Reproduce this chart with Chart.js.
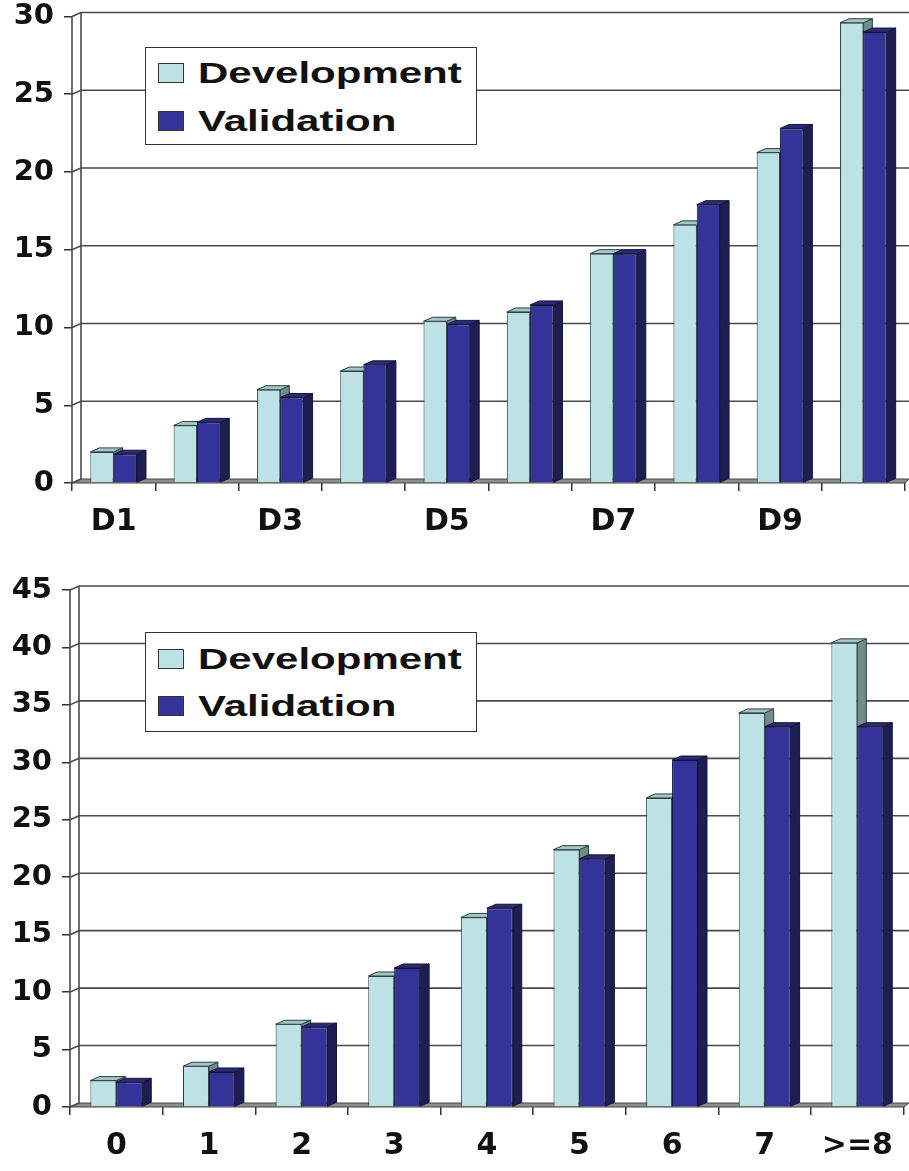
<!DOCTYPE html>
<html>
<head>
<meta charset="utf-8">
<script src="https://cdn.jsdelivr.net/npm/chart.js@4.4.0/dist/chart.umd.min.js"></script>
<style>
  html, body { margin: 0; padding: 0; background: #fff; }
  body { width: 909px; height: 1171px; position: relative; overflow: hidden; }
  .wrap { position: absolute; left: 0; width: 909px; }
  #w1 { top: -8px; height: 558px; }
  #w2 { top: 560px; height: 611px; }
  .legend {
    position: absolute; left: 145px; width: 332px; background: #fff;
    border: 1.5px solid #333; box-sizing: border-box;
    font-family: "Liberation Sans", Arial, sans-serif; font-weight: bold; font-size: 30px; color: #111;
  }
  .legend .row { position: absolute; left: 12px; height: 34px; display: flex; align-items: center; }
  .legend .sw { width: 26px; height: 20px; box-sizing: border-box; border: 1.5px solid #333; margin-right: 14px; }
  .legend .tx { display: inline-block; transform: scaleX(1.4); transform-origin: left center; white-space: nowrap; }
</style>
</head>
<body>
<div class="wrap" id="w1"><canvas id="c1"></canvas></div>
<div class="wrap" id="w2"><canvas id="c2"></canvas></div>
<div class="legend" id="lg1" style="top:47px;height:98px;"></div>
<div class="legend" id="lg2" style="top:632px;height:100px;"></div>
<script>
// ---- data ----
const seriesNames = ["Development", "Validation"];

const decileCategories = ["D1","D2","D3","D4","D5","D6","D7","D8","D9","D10"];
const decileTickLabels = ["D1","","D3","","D5","","D7","","D9",""];
const decileDevelopment = [2.0, 3.7, 6.0, 7.2, 10.4, 11.0, 14.75, 16.6, 21.25, 29.6];
const decileValidation  = [1.85, 3.9, 5.5, 7.6, 10.2, 11.45, 14.75, 17.9, 22.8, 29.0];
const decileYTicks = [0, 5, 10, 15, 20, 25, 30];

const scoreCategories = ["0","1","2","3","4","5","6","7",">=8"];
const scoreTickLabels = ["0","1","2","3","4","5","6","7",">=8"];
const scoreDevelopment = [2.3, 3.55, 7.2, 11.4, 16.5, 22.4, 26.9, 34.3, 40.4];
const scoreValidation  = [2.15, 3.05, 6.95, 12.1, 17.3, 21.6, 30.2, 33.1, 33.1];
const scoreYTicks = [0, 5, 10, 15, 20, 25, 30, 35, 40, 45];

// ---- style ----
const frontColors = ["#BDE2E5", "#333399"];
const sideColors  = ["#6F8D8B", "#1E1E52"];
const topColors   = ["#A3C7C8", "#2A2A78"];
const edgeColors  = ["#2E3E3E", "#141436"];
const DX = 9, DY = 4;

const depth3d = {
  id: 'depth3d',
  beforeDatasetsDraw(chart) {
    const {ctx, chartArea: a} = chart;
    const y = chart.scales.y;
    ctx.save();
    // floor
    ctx.fillStyle = '#8E8E8E';
    ctx.strokeStyle = '#444';
    ctx.lineWidth = 1;
    ctx.beginPath();
    ctx.moveTo(a.left, a.bottom);
    ctx.lineTo(a.right, a.bottom);
    ctx.lineTo(chart.width, a.bottom - DY);
    ctx.lineTo(a.left + DX, a.bottom - DY);
    ctx.closePath();
    ctx.fill(); ctx.stroke();
    // back wall grid lines
    ctx.strokeStyle = '#4A4A4A';
    ctx.lineWidth = 1.6;
    y.ticks.forEach(t => {
      const yy = y.getPixelForValue(t.value);
      ctx.beginPath();
      ctx.moveTo(a.left, yy);
      ctx.lineTo(a.left + DX, yy - DY);
      if (t.value !== 0) ctx.lineTo(chart.width, yy - DY);
      ctx.stroke();
    });
    // wall edges
    ctx.beginPath();
    ctx.moveTo(a.left, a.top); ctx.lineTo(a.left, a.bottom);
    ctx.moveTo(a.left + DX, a.top - DY); ctx.lineTo(a.left + DX, a.bottom - DY);
    ctx.stroke();
    // bar side and top faces
    chart.data.datasets.forEach((ds, di) => {
      const meta = chart.getDatasetMeta(di);
      meta.data.forEach(bar => {
        const p = bar.getProps(['x', 'y', 'base', 'width'], true);
        const x0 = p.x - p.width / 2, x1 = p.x + p.width / 2;
        ctx.lineWidth = 1;
        ctx.strokeStyle = edgeColors[di];
        // side
        ctx.fillStyle = sideColors[di];
        ctx.beginPath();
        ctx.moveTo(x1, p.y); ctx.lineTo(x1 + DX, p.y - DY);
        ctx.lineTo(x1 + DX, p.base - DY); ctx.lineTo(x1, p.base);
        ctx.closePath(); ctx.fill(); ctx.stroke();
        // top
        ctx.fillStyle = topColors[di];
        ctx.beginPath();
        ctx.moveTo(x0, p.y); ctx.lineTo(x1, p.y);
        ctx.lineTo(x1 + DX, p.y - DY); ctx.lineTo(x0 + DX, p.y - DY);
        ctx.closePath(); ctx.fill(); ctx.stroke();
      });
    });
    ctx.restore();
  }
};

function makeChart(canvasId, cats, tickLabels, dev, val, yTicks, opts) {
  const yMax = yTicks[yTicks.length - 1];
  return new Chart(document.getElementById(canvasId), {
    type: 'bar',
    data: {
      labels: cats,
      datasets: [dev, val].map((d, i) => ({
        label: seriesNames[i],
        data: d,
        backgroundColor: frontColors[i],
        borderColor: edgeColors[i],
        borderWidth: 1,
        categoryPercentage: 0.56,
        barPercentage: 1.0
      }))
    },
    plugins: [depth3d],
    options: {
      responsive: true,
      maintainAspectRatio: false,
      animation: false,
      events: [],
      layout: { padding: { top: opts.padTop, right: opts.padRight, bottom: 0, left: 0 } },
      plugins: { legend: { display: false }, tooltip: { enabled: false } },
      scales: {
        x: {
          offset: true,
          border: { display: false },
          grid: { offset: true, drawOnChartArea: false, drawTicks: true, tickLength: 8, color: '#333', lineWidth: 1.5 },
          ticks: {
            autoSkip: false, maxRotation: 0, padding: opts.xPad, color: '#111',
            font: { family: 'DejaVu Sans', weight: 'bold', size: 30, lineHeight: 1.0 },
            callback: (v, i) => tickLabels[i]
          },
          afterFit: s => { s.height = opts.xHeight; }
        },
        y: {
          min: 0, max: yMax,
          afterBuildTicks: s => { s.ticks = yTicks.map(v => ({ value: v })); },
          border: { display: false },
          grid: { drawOnChartArea: false, drawTicks: true, tickLength: 8, color: '#333', lineWidth: 1.5 },
          ticks: {
            padding: 10, color: '#111',
            font: { family: 'DejaVu Sans', weight: 'bold', size: 29, lineHeight: 1.0 }
          },
          afterFit: s => { s.width = opts.yWidth; }
        }
      }
    }
  });
}

makeChart('c1', decileCategories, decileTickLabels, decileDevelopment, decileValidation, decileYTicks,
  { padTop: 9, padRight: 4, xHeight: 67, xPad: 16, yWidth: 72 });
makeChart('c2', scoreCategories, scoreTickLabels, scoreDevelopment, scoreValidation, scoreYTicks,
  { padTop: 30, padRight: 2, xHeight: 64, xPad: 16, yWidth: 70 });

function buildLegend(id, rowTops) {
  const el = document.getElementById(id);
  seriesNames.forEach((name, i) => {
    const row = document.createElement('div');
    row.className = 'row';
    row.style.top = rowTops[i] + 'px';
    const sw = document.createElement('span');
    sw.className = 'sw';
    sw.style.background = frontColors[i];
    const tx = document.createElement('span');
    tx.className = 'tx';
    tx.textContent = name;
    row.appendChild(sw); row.appendChild(tx);
    el.appendChild(row);
  });
}
buildLegend('lg1', [8, 56]);
buildLegend('lg2', [9, 56]);
</script>
</body>
</html>
